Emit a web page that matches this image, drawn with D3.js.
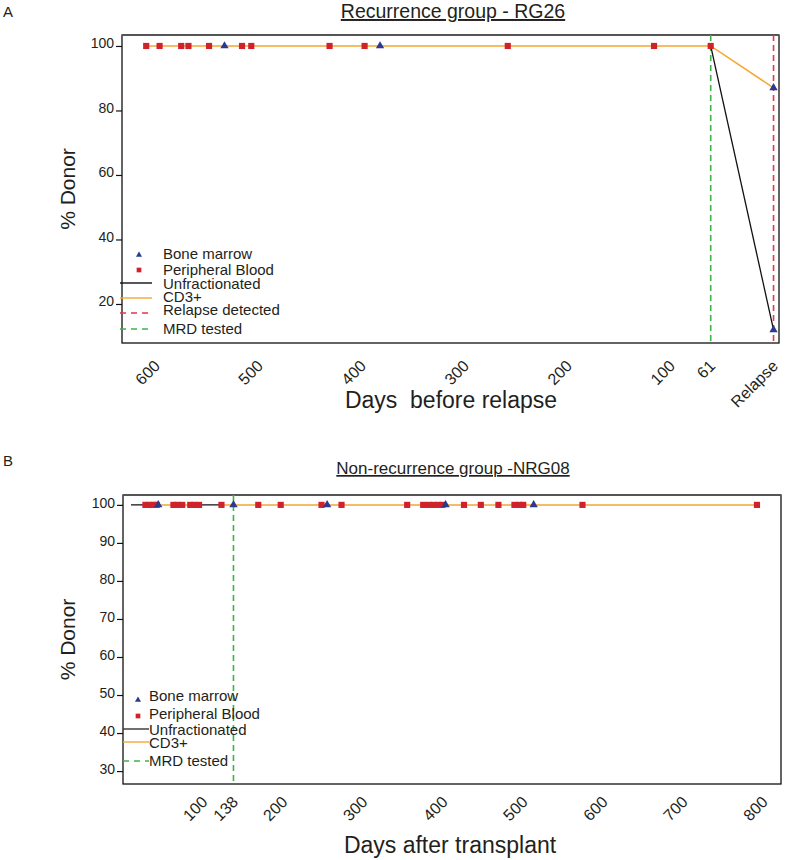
<!DOCTYPE html>
<html><head><meta charset="utf-8">
<script src="https://cdn.jsdelivr.net/npm/d3@7"></script>
<style>
body{margin:0;background:#fff;}
text{font-family:"Liberation Sans",Arial,sans-serif;fill:#231f20;}
</style></head>
<body><svg id="c" width="785" height="860"></svg>
<script>
// ---------- Panel A data (days before relapse) ----------
const pbDaysA = [609, 596, 575, 568, 548, 516, 507, 431, 397, 258, 116, 61];
const pbValsA = [100, 100, 100, 100, 100, 100, 100, 100, 100, 100, 100, 100];
const bmDaysA = [533, 382, 0, 0];
const bmValsA = [100, 100, 87, 12];
const cd3DaysA = [609, 596, 575, 568, 548, 533, 516, 507, 431, 397, 382, 258, 116, 61, 0];
const cd3ValsA = [100, 100, 100, 100, 100, 100, 100, 100, 100, 100, 100, 100, 100, 100, 87];
const unfDaysA = [61, 0];
const unfValsA = [100, 12];
const mrdDayA = 61, relapseDayA = 0;
const xTicksA = [600, 500, 400, 300, 200, 100, 61, 0];
const xTickLabelsA = ["600", "500", "400", "300", "200", "100", "61", "Relapse"];
const yTicksA = [20, 40, 60, 80, 100];

// ---------- Panel B data (days after transplant) ----------
const pbDaysB = [28, 33, 38, 42, 63, 68, 74, 84, 89, 95, 123, 169, 197, 248, 273, 355, 375, 382, 388, 394, 399, 426, 447, 469, 489, 495, 500, 574, 792];
const pbValsB = pbDaysB.map(() => 100);
const bmDaysB = [44, 138, 255, 403, 513];
const bmValsB = [100, 100, 100, 100, 100];
const cd3DaysB = [28, 33, 38, 42, 44, 63, 68, 74, 84, 89, 95, null, 123, 138, 169, 197, 248, 255, 273, 355, 375, 382, 388, 394, 399, 403, 426, 447, 469, 489, 495, 500, 513, 574, 792];
const cd3ValsB = cd3DaysB.map(d => d === null ? null : 100);
const unfDaysB = [10, 28, null, 95, 123];
const unfValsB = [100, 100, null, 100, 100];
const mrdDayB = 138;
const xTicksB = [100, 138, 200, 300, 400, 500, 600, 700, 800];
const yTicksB = [30, 40, 50, 60, 70, 80, 90, 100];

const C = {pb:"#d0222a", bm:"#2b3a8f", cd3:"#f4a733", unf:"#111", mrd:"#3bb44a", rel:"#e5364b"};

const svg = d3.select("#c");

function zip(ds, vs){ return ds.map((d,i)=>({d:d, v:vs[i]})); }

function panel(o){
  const g = svg.append("g");
  const x = o.x, y = o.y;
  const [x0,x1] = x.range(), [y0,y1] = y.range(); // y0 bottom, y1 top
  // frame
  g.append("rect").attr("x",x0).attr("y",y1).attr("width",x1-x0).attr("height",y0-y1)
    .attr("fill","none").attr("stroke","#111").attr("stroke-width",1.3);
  g.append("line").attr("x1",x0).attr("x2",x1).attr("y1",y1).attr("y2",y1)
    .attr("stroke","#555").attr("stroke-width",2.2);
  // y axis
  const ya = g.append("g").attr("transform",`translate(${x0},0)`)
    .call(d3.axisLeft(y).tickValues(o.yTicks).tickSize(6).tickPadding(2).tickFormat(d3.format("d")));
  ya.select(".domain").remove();
  ya.selectAll("line").attr("stroke","#111").attr("stroke-width",1.2);
  ya.selectAll("text").attr("font-size",14).attr("dy",o.ydy).attr("fill","#231f20")
    .attr("font-family","Liberation Sans, Arial, sans-serif");
  // x axis
  const xa = g.append("g").attr("transform",`translate(0,${y0})`)
    .call(d3.axisBottom(x).tickValues(o.xTicks).tickSize(0).tickFormat(o.xFmt));
  xa.select(".domain").remove();
  xa.selectAll("text").attr("font-size",16).attr("y",0).attr("dy",0).attr("x",0)
    .attr("text-anchor","end").attr("fill","#231f20")
    .attr("font-family","Liberation Sans, Arial, sans-serif")
    .attr("transform",`translate(${o.lblDx},${o.lblDy}) rotate(-45)`);
  // vertical dashed lines
  o.vlines.forEach(v=>{
    g.append("line").attr("x1",x(v.d)).attr("x2",x(v.d)).attr("y1",y1).attr("y2",y0)
      .attr("stroke",v.c).attr("stroke-width",1.6).attr("stroke-dasharray","6,4");
  });
  // lines
  const line = d3.line().defined(p=>p.d!==null && p.v!==null).x(p=>x(p.d)).y(p=>y(p.v));
  g.append("path").datum(o.unf).attr("d",line).attr("fill","none").attr("stroke",C.unf).attr("stroke-width",1.3);
  g.append("path").datum(o.cd3).attr("d",line).attr("fill","none").attr("stroke",C.cd3).attr("stroke-width",1.5);
  // points
  g.selectAll(".pb").data(o.pb).enter().append("path")
    .attr("d",d3.symbol(d3.symbolSquare,38)())
    .attr("transform",p=>`translate(${x(p.d)},${y(p.v)})`).attr("fill",C.pb);
  g.selectAll(".bm").data(o.bm).enter().append("path")
    .attr("d",d3.symbol(d3.symbolTriangle,30)())
    .attr("transform",p=>`translate(${x(p.d)},${y(p.v)})`).attr("fill",C.bm);
  // titles
  svg.append("text").attr("x",o.titleX).attr("y",o.titleY).attr("text-anchor","middle")
    .attr("font-size",o.titleSize).attr("text-decoration","underline").text(o.title);
  svg.append("text").attr("x",3).attr("y",o.letterY).attr("font-size",15).text(o.letter);
  svg.append("text").attr("transform",`translate(${o.yLabX},${(y0+y1)/2}) rotate(-90)`)
    .attr("text-anchor","middle").attr("font-size",21).text("% Donor");
  svg.append("text").attr("x",o.xLabX).attr("y",o.xLabY).attr("text-anchor","middle")
    .attr("font-size",23).style("white-space","pre").text(o.xLab);
  // legend
  const lg = svg.append("g");
  o.legend.forEach(it=>{
    if(it.type==="tri") lg.append("path").attr("d",d3.symbol(d3.symbolTriangle,16)())
      .attr("transform",`translate(${it.mx},${it.my})`).attr("fill",C.bm);
    if(it.type==="sq") lg.append("path").attr("d",d3.symbol(d3.symbolSquare,22)())
      .attr("transform",`translate(${it.mx},${it.my})`).attr("fill",C.pb);
    if(it.type==="line") lg.append("line").attr("x1",it.lx0).attr("x2",it.lx1).attr("y1",it.my).attr("y2",it.my)
      .attr("stroke",it.c).attr("stroke-width",1.4).attr("stroke-dasharray",it.dash||null);
    lg.append("text").attr("x",it.tx).attr("y",it.ty).attr("font-size",15).text(it.label);
  });
}

// ---------- Panel A ----------
panel({
  x: d3.scaleLinear().domain([632.5, -5.3]).range([122, 779]),
  y: d3.scaleLinear().domain([7.9, 103.4]).range([343, 35]),
  yTicks: yTicksA, ydy: "0.12em",
  xTicks: xTicksA, xFmt: (d,i)=>xTickLabelsA[i], lblDx: 5, lblDy: 24,
  vlines: [{d:mrdDayA, c:C.mrd}, {d:relapseDayA, c:C.rel}],
  unf: zip(unfDaysA, unfValsA), cd3: zip(cd3DaysA, cd3ValsA),
  pb: zip(pbDaysA, pbValsA), bm: zip(bmDaysA, bmValsA),
  title: "Recurrence group - RG26", titleX: 453, titleY: 18, titleSize: 19.5,
  letter: "A", letterY: 17, yLabX: 75,
  xLab: "Days  before relapse", xLabX: 451, xLabY: 408,
  legend: [
    {type:"tri", mx:139, my:255, tx:163, ty:259, label:"Bone marrow"},
    {type:"sq", mx:139, my:270, tx:163, ty:275, label:"Peripheral Blood"},
    {type:"line", lx0:120, lx1:152, my:283, c:C.unf, tx:163, ty:289, label:"Unfractionated"},
    {type:"line", lx0:120, lx1:152, my:298, c:C.cd3, tx:163, ty:302, label:"CD3+"},
    {type:"line", lx0:120, lx1:152, my:313, c:C.rel, dash:"6,5", tx:163, ty:315, label:"Relapse detected"},
    {type:"line", lx0:120, lx1:152, my:329, c:C.mrd, dash:"6,5", tx:163, ty:334, label:"MRD tested"}
  ]
});

// ---------- Panel B ----------
panel({
  x: d3.scaleLinear().domain([0, 822]).range([123, 781]),
  y: d3.scaleLinear().domain([26.6, 102.6]).range([784, 495]),
  yTicks: yTicksB, ydy: "0.2em",
  xTicks: xTicksB, xFmt: d3.format("d"), lblDx: 5, lblDy: 19,
  vlines: [{d:mrdDayB, c:C.mrd}],
  unf: zip(unfDaysB, unfValsB), cd3: zip(cd3DaysB, cd3ValsB),
  pb: zip(pbDaysB, pbValsB), bm: zip(bmDaysB, bmValsB),
  title: "Non-recurrence group -NRG08", titleX: 453, titleY: 474, titleSize: 17,
  letter: "B", letterY: 466, yLabX: 75,
  xLab: "Days after transplant", xLabX: 450, xLabY: 853,
  legend: [
    {type:"tri", mx:138, my:700, tx:149, ty:701, label:"Bone marrow"},
    {type:"sq", mx:138, my:716, tx:149, ty:719, label:"Peripheral Blood"},
    {type:"line", lx0:123, lx1:149, my:729, c:"#333", tx:149, ty:735, label:"Unfractionated"},
    {type:"line", lx0:123, lx1:149, my:742, c:C.cd3, tx:149, ty:748, label:"CD3+"},
    {type:"line", lx0:123, lx1:149, my:761, c:C.mrd, dash:"6,5", tx:149, ty:766, label:"MRD tested"}
  ]
});
</script></body></html>
